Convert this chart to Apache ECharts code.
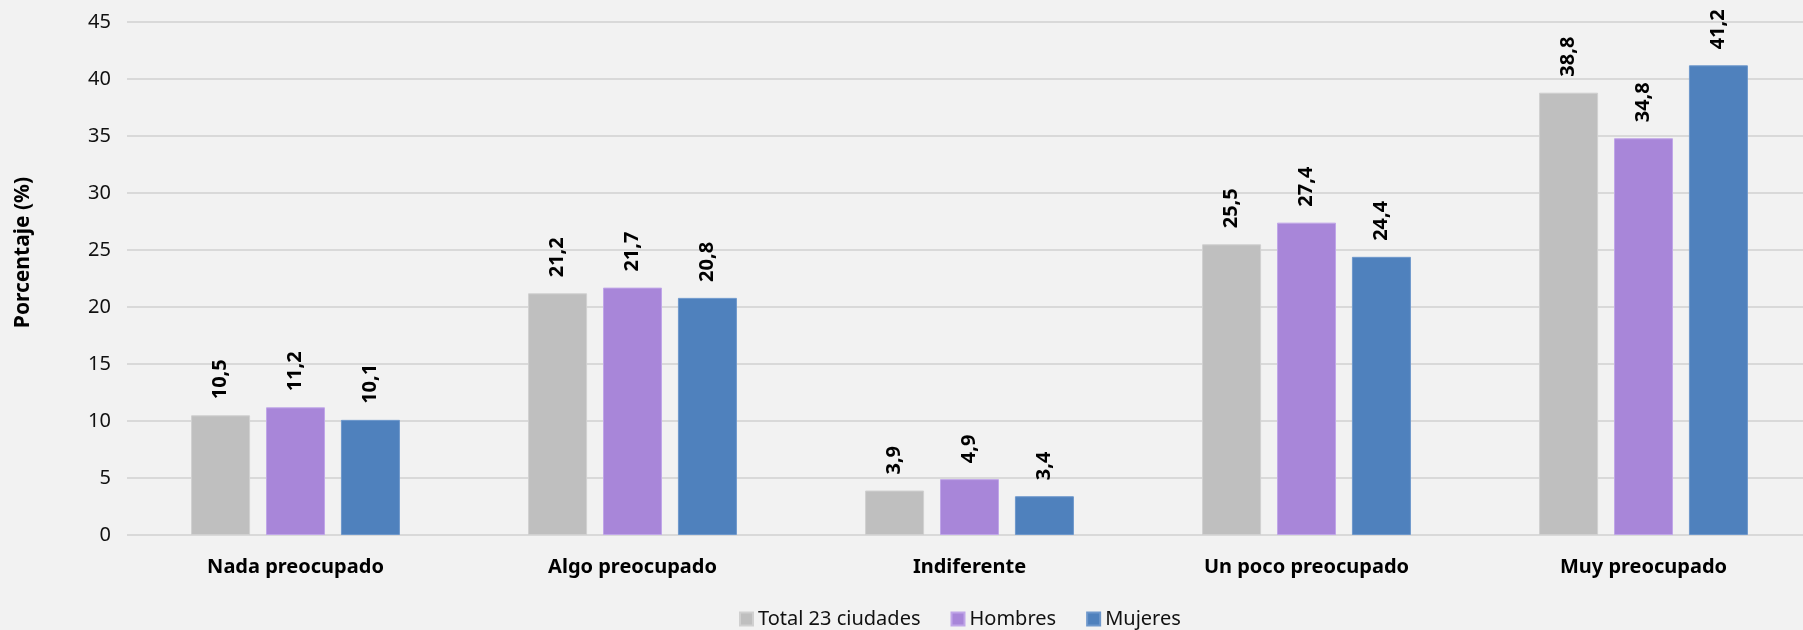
<!DOCTYPE html>
<html><head><meta charset="utf-8">
<script src="https://cdn.jsdelivr.net/npm/echarts@6/dist/echarts.min.js"></script>
<style>html,body{margin:0;padding:0;background:#f2f2f2;overflow:hidden}#c{width:1812px;height:630px}</style>
</head><body><div id="c"></div>
<script>
const categories = ['Nada preocupado','Algo preocupado','Indiferente','Un poco preocupado','Muy preocupado'];
const seriesNames = ['Total 23 ciudades','Hombres','Mujeres'];
const totalValues = [10.5, 21.2, 3.9, 25.5, 38.8];
const hombresValues = [11.2, 21.7, 4.9, 27.4, 34.8];
const mujeresValues = [10.1, 20.8, 3.4, 24.4, 41.2];
const colors = ['#bfbfbf','#a886d9','#4f81bd'];
const borders = ['#d0d0d0','#c0a6e8','#6e98cc'];
const FONT = '"Noto Sans", "Open Sans", sans-serif';
const chart = echarts.init(document.getElementById('c'), null, {renderer:'canvas'});
const mk = (name, data, i) => ({
  name, type:'bar', data, barWidth:59, barGap:'27%',
  itemStyle:{color:colors[i], borderColor:borders[i], borderWidth:1},
  label:{show:true, position:'top', rotate:90, align:'left', verticalAlign:'middle', distance:16,
    formatter:p=>p.value.toFixed(1).replace('.',','), fontFamily:FONT, fontWeight:'bold', fontSize:20, color:'#000'}
});
chart.setOption({
  backgroundColor:'#f2f2f2',
  animation:false,
  grid:{left:127, right:0, top:22, bottom:95},
  legend:{top:604, left:734, itemWidth:13, itemHeight:13, itemGap:30, icon:'rect',
    textStyle:{fontFamily:FONT, fontSize:20, color:'#111'}, data:seriesNames},
  xAxis:{type:'category', data:categories,
    axisLine:{show:false}, axisTick:{show:false},
    axisLabel:{fontFamily:FONT, fontWeight:'bold', fontSize:20, color:'#000', margin:22}},
  yAxis:{type:'value', min:0, max:45, interval:5,
    name:'Porcentaje (%)', nameLocation:'middle', nameGap:93, nameRotate:90,
    nameTextStyle:{fontFamily:FONT, fontWeight:'bold', fontSize:21, color:'#000', padding:[0,0,0,52]},
    axisLabel:{fontFamily:FONT, fontSize:20, color:'#111', margin:16},
    splitLine:{lineStyle:{color:'#d9d9d9', width:2}}},
  series:[mk(seriesNames[0], totalValues, 0), mk(seriesNames[1], hombresValues, 1), mk(seriesNames[2], mujeresValues, 2)]
});
</script></body></html>
